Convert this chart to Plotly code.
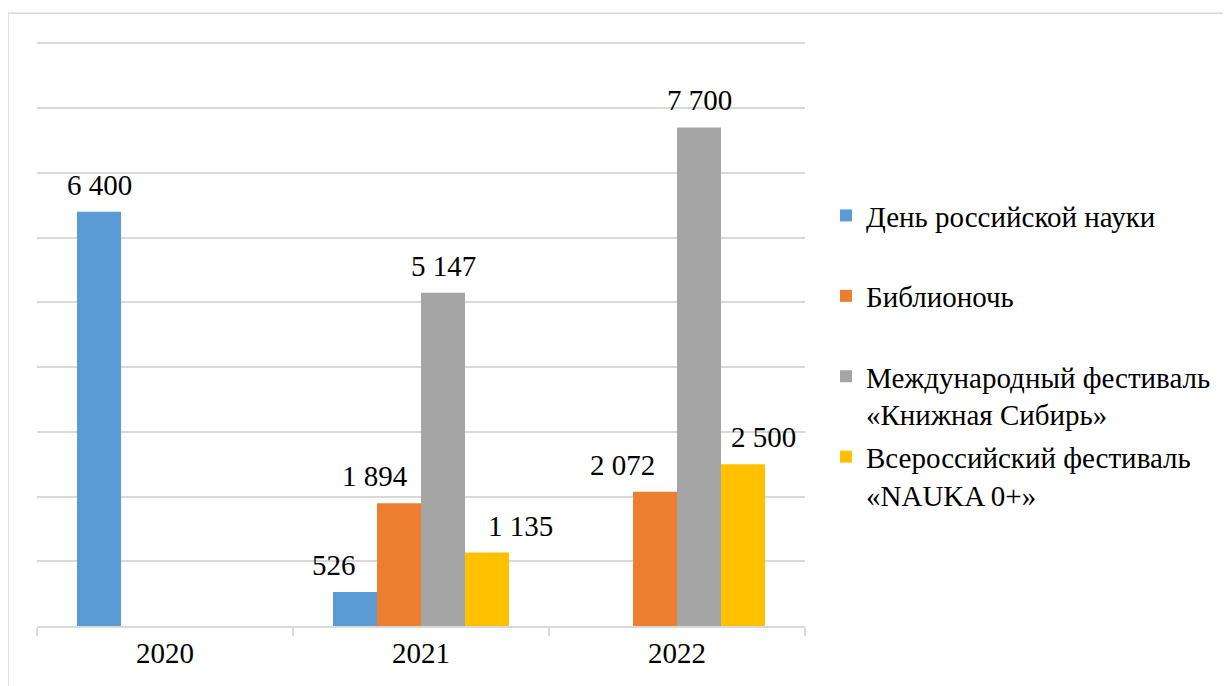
import plotly.graph_objects as go

categories = ["2020", "2021", "2022"]
series_names = [
    "День российской науки",
    "Библионочь",
    "Международный фестиваль<br>«Книжная Сибирь»",
    "Всероссийский фестиваль<br>«NAUKA 0+»",
]
den_nauki = [6400, 526, None]
biblionoch = [None, 1894, 2072]
knizhnaya_sibir = [None, 5147, 7700]
nauka_0 = [None, 1135, 2500]

series_values = [den_nauki, biblionoch, knizhnaya_sibir, nauka_0]
colors = ["#5B9BD5", "#ED7D31", "#A5A5A5", "#FFC000"]

# horizontal nudges of the value labels (pixels), as placed in the reference
label_xshift = [
    [0, -21, 0],
    [0, -24, -33],
    [0, 0, 0],
    [0, 33, 20],
]

FONT = "Liberation Serif"
FS = 29

# page body has an 8px margin: work in screen coords and subtract it
OFF = 8
W, H = 1231 - OFF, 686 - OFF
left, right, top, bottom = 37, 805, 41.7, 626.5  # screen coords of plot area
ml, mt = left - OFF, top - OFF
mr = W - (right - OFF)
mb = H - (bottom - OFF)
pw = right - left
ph = bottom - top

fig = go.Figure()
for k, (name, vals, col) in enumerate(zip(series_names, series_values, colors)):
    label = name if "<br>" in name else name + "<br> "
    fig.add_trace(go.Bar(
        x=categories, y=vals, name=label, legendgroup=f"g{k}",
        marker=dict(color=col, line=dict(width=0)), hoverinfo="skip",
    ))

n = len(series_values)
bargap = 0.3125
bw = (1 - bargap) / n
annotations = []
for i, vals in enumerate(series_values):
    for j, v in enumerate(vals):
        if v is None:
            continue
        annotations.append(dict(
            x=j + (i - (n - 1) / 2) * bw, y=v, xref="x", yref="y",
            text=f"{v:,}".replace(",", " "), showarrow=False,
            yanchor="bottom", xanchor="center", yshift=9, xshift=label_xshift[i][j],
            font=dict(family=FONT, size=FS, color="black"),
        ))

fig.update_layout(
    width=W, height=H,
    margin=dict(l=ml, r=mr, t=mt, b=mb, pad=0),
    paper_bgcolor="white", plot_bgcolor="white",
    barmode="group", bargap=bargap, bargroupgap=0,
    font=dict(family=FONT, size=FS, color="black"),
    annotations=annotations,
    showlegend=True,
    legend=dict(
        x=(826 - left) / pw, y=(bottom - 190) / ph, xanchor="left", yanchor="top",
        font=dict(family=FONT, size=FS, color="black"), valign="top",
        bgcolor="rgba(0,0,0,0)", traceorder="grouped", tracegroupgap=2,
    ),
    xaxis=dict(
        type="category", showline=True, linecolor="#D9D9D9", linewidth=1.5,
        ticks="outside", tickson="boundaries", ticklen=8, tickcolor="#D9D9D9", tickwidth=1.5,
        tickfont=dict(family=FONT, size=FS, color="black"), showgrid=False,
    ),
    yaxis=dict(
        range=[0, 9020], tickvals=list(range(1000, 10000, 1000)), showticklabels=False,
        showgrid=True, gridcolor="#D9D9D9", gridwidth=1.5, zeroline=False, showline=False, ticks="",
    ),
    shapes=[dict(
        type="rect", xref="paper", yref="paper",
        x0=(8 - left) / pw, x1=(1230.5 - left) / pw,
        y0=(bottom - 700) / ph, y1=(bottom - 13) / ph,
        line=dict(color="#D9D9D9", width=1.5), fillcolor="rgba(0,0,0,0)", layer="below",
    )],
)

fig.write_html("out.html")
